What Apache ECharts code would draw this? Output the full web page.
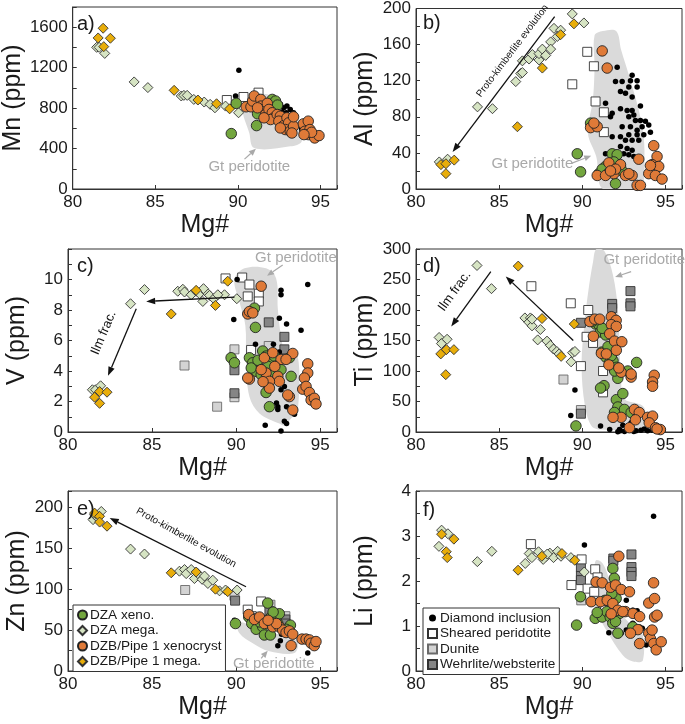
<!DOCTYPE html>
<html><head><meta charset="utf-8">
<script src="https://cdn.jsdelivr.net/npm/echarts@6/dist/echarts.min.js"></script>
<style>html,body{margin:0;padding:0;background:#fff}#c{width:685px;height:724px}</style>
</head><body><div id="c"></div>
<script>
const FF = '"Liberation Sans", Arial, sans-serif';
const xTicks = [80, 85, 90, 95];

// ---------- panel a: Mn ----------
const a_xeno = [[89.6,548],[89.9,847],[91.13,627],[91.19,744],[92.08,886],[92.28,870],[91.29,853],[90.99,870],[91.6,800],[92.4,830]];
const a_mega = [[81.45,1401],[81.6,1401],[81.94,1341],[83.72,1059],[84.55,1003],[86.57,920],[86.73,926],[86.93,926],[87.33,886],[87.96,860],[88.32,837],[88.61,803],[89.25,820],[90.04,754]];
const a_dzb = [[90.5,813],[90.79,813],[90.89,870],[90.99,920],[91.39,886],[91.39,820],[91.58,787],[91.78,847],[91.68,737],[91.88,787],[92.08,754],[92.18,704],[91.98,687],[92.38,737],[92.57,720],[92.48,671],[92.77,627],[92.97,704],[93.07,654],[92.87,588],[93.17,571],[93.37,621],[93.37,714],[93.27,554],[93.96,644],[94.06,571],[94.26,671],[94.36,588],[94.26,538],[94.55,538],[94.65,505],[94.91,528],[94.46,561],[94.0,538],[92.57,604],[91.58,704],[91.19,803]];
const a_dzbMega = [[81.84,1590],[81.54,1494],[82.28,1491],[81.88,1408],[86.14,976],[87.58,880],[88.71,843],[89.5,793]];
const a_dia = [[90.06,1175],[89.86,920],[92.08,870],[92.22,847],[92.38,820],[92.57,837],[92.77,803],[92.67,760],[92.93,754],[93.17,787],[93.37,754],[92.38,770],[92.08,827],[92.97,820],[93.27,687],[93.86,594],[91.58,860],[92.48,720]];
const a_sheared = [[89.33,880],[90.34,910],[91.25,953]];
const a_dunite = [];
const a_wehr = [];
const a_gt = [[90.3,803],[90.99,920],[91.78,936],[92.97,820],[93.76,654],[93.86,471],[93.17,422],[90.99,405],[90.69,554]];

// ---------- panel b: Al ----------
const b_xeno = [[89.7,39],[89.9,19],[90.5,73],[91.4,25],[91.8,39],[92.1,38],[92.0,6],[91.0,17],[92.3,25],[91.2,22],[91.6,18],[92.4,20],[91.9,30]];
const b_mega = [[81.4,30],[81.9,33],[83.7,91],[84.6,89],[86.0,119],[86.3,128],[86.4,142],[86.8,144],[87.0,149],[87.4,143],[87.4,150],[87.6,155],[88.1,163],[88.3,178],[88.7,176],[88.5,169],[89.4,194],[90.1,184],[86.4,129],[88.1,155],[87.8,148]];
const b_dzb = [[91.2,153],[91.5,134],[90.5,68],[90.9,69],[90.7,73],[90.9,15],[91.6,29],[92.3,27],[93.4,33],[93.0,15],[93.3,4],[93.5,4],[94.3,48],[94.5,36],[94.2,27],[94.6,25],[94.0,17],[94.4,15],[94.8,11],[94.1,26],[92.6,15],[91.9,17],[91.4,15],[92.0,22],[92.8,17],[91.7,20]];
const b_dzbMega = [[81.5,27],[81.8,28],[81.8,17],[82.3,32],[86.1,69],[87.6,134],[88.7,171],[89.5,183]];
const b_dia = [[92.1,135],[93.0,126],[92.9,120],[93.3,120],[92.0,119],[92.4,119],[92.8,113],[93.3,113],[92.3,108],[92.6,106],[93.0,102],[93.5,92],[91.4,95],[91.8,84],[91.7,80],[92.3,89],[92.7,87],[93.0,87],[93.1,82],[92.8,80],[93.2,76],[93.5,76],[93.8,75],[93.6,69],[94.0,71],[92.9,69],[93.3,65],[93.7,60],[93.3,60],[94.1,63],[92.8,60],[92.4,69],[92.6,54],[93.4,54],[92.3,47],[92.7,45],[93.0,43],[92.5,39],[92.8,38],[93.1,36],[91.4,39],[92.3,58],[91.8,58],[93.0,54],[92.2,36]];
const b_sheared = [[89.4,116],[90.3,152],[90.7,136],[90.8,97],[91.3,85],[91.3,63]];
const b_dunite = [];
const b_wehr = [];
const b_gt = [[90.74,170],[91.24,175],[92.04,175],[92.34,154],[92.84,124],[93.54,76],[93.74,39],[93.44,0],[91.24,0],[90.84,36],[90.34,62],[90.64,99],[90.74,135]];

// ---------- panel c: V ----------
const c_xeno = [[89.7,4.87],[89.9,4.54],[91.09,8.12],[91.15,6.86],[91.98,1.66],[91.78,2.59],[90.79,4.87],[90.99,4.54],[91.29,4.31],[91.58,5.31],[91.78,4.98],[92.08,4.65],[92.28,4.98],[91.19,3.98],[91.49,3.76],[92.38,4.31],[92.67,4.09],[93.27,3.65],[93.17,4.87],[90.9,4.2],[91.3,4.7],[92.0,3.9],[91.9,4.3]];
const c_mega = [[81.45,2.77],[81.64,2.77],[81.94,3.03],[83.72,8.41],[84.55,9.34],[86.53,9.23],[86.83,9.36],[86.93,9.18],[87.33,9.0],[87.62,9.23],[87.82,9.07],[88.02,8.56],[88.22,9.18],[88.42,8.96],[88.67,8.74],[89.31,9.0],[90.04,8.74],[88.91,9.0],[88.06,9.4]];
const c_dzb = [[90.69,7.74],[90.79,7.9],[90.99,7.81],[91.49,9.56],[93.37,5.15],[94.26,4.47],[94.26,3.87],[94.06,3.54],[93.96,2.81],[94.16,2.99],[94.36,2.59],[94.46,2.1],[94.65,2.21],[94.75,1.84],[93.37,1.44],[93.17,2.32],[90.79,3.47],[90.69,3.54],[91.68,4.87],[92.18,5.2],[92.67,4.76],[91.78,3.87],[92.48,3.65],[92.97,4.76],[93.07,2.43],[92.57,3.32],[91.98,3.32],[91.49,4.09],[91.98,2.88],[92.3,4.3],[91.6,3.3]];
const c_dzbMega = [[81.58,2.28],[81.88,2.65],[81.88,1.88],[82.32,2.61],[86.14,7.74],[87.62,9.29],[88.77,8.3],[89.5,9.89]];
const c_dia = [[90.06,10.0],[89.86,7.37],[92.67,9.29],[92.67,9.0],[92.57,7.46],[93.0,7.08],[93.86,6.68],[94.26,9.67],[91.15,5.75],[92.22,5.75],[91.73,0.44],[92.67,0.07],[92.87,0.71],[93.0,0.55],[93.0,1.66],[92.48,1.66],[92.48,1.48],[92.61,3.25],[92.87,2.99],[92.67,2.77],[93.17,2.37],[91.78,2.99],[91.58,3.21],[93.47,1.17],[91.9,5.09],[92.57,5.24],[92.4,1.9],[93.2,3.5]];
const c_sheared = [[89.37,10.07],[90.36,10.13],[90.79,9.67],[90.69,8.89],[91.35,9.07],[91.35,8.56],[90.89,5.38]];
const c_dunite = [[86.93,4.36],[88.87,1.66],[89.9,5.42],[89.9,2.28],[91.94,5.64],[92.87,5.09]];
const c_wehr = [[89.9,4.05],[89.9,2.54],[91.94,7.19],[92.87,6.24],[92.87,5.42]];
const c_gt = [[89.9,10.0],[90.5,10.73],[91.78,10.73],[92.38,10.07],[92.48,8.08],[92.67,6.31],[92.97,5.09],[93.66,4.98],[93.66,1.22],[93.37,1.0],[92.87,0.44],[92.57,0.55],[91.39,1.22],[90.79,2.32],[90.59,4.76],[90.55,6.97],[90.2,8.52]];

// ---------- panel d: Ti ----------
const d_xeno = [[89.62,10],[90.8,177],[91.0,176],[91.09,164],[91.41,159],[91.17,131],[91.41,123],[91.65,114],[91.85,117],[92.05,106],[92.14,88],[92.74,100],[93.27,114],[91.31,76],[91.1,72],[92.05,53],[92.44,63],[92.14,41],[91.94,32],[92.54,37],[92.94,32],[90.65,182],[91.2,170],[91.55,140],[91.75,125],[91.95,100]];
const d_mega = [[81.39,155],[81.53,145],[81.87,152],[83.67,273],[84.54,235],[86.55,187],[86.88,187],[86.79,180],[86.98,174],[87.48,168],[87.32,151],[87.88,149],[88.08,142],[88.27,136],[88.47,132],[88.61,128],[89.33,115],[89.42,130],[89.56,132],[86.98,185]];
const d_dzb = [[90.46,181],[90.75,185],[91.05,185],[91.75,189],[92.04,183],[91.75,176],[92.05,173],[91.65,161],[91.94,149],[92.38,148],[92.05,134],[91.15,129],[91.45,128],[92.34,98],[92.94,90],[92.94,95],[94.33,93],[94.23,82],[94.23,75],[93.14,37],[93.43,32],[93.93,24],[94.23,26],[94.03,15],[94.41,7],[94.7,4],[92.84,7],[92.34,24],[91.85,24],[90.67,157],[91.6,110],[92.2,105],[93.2,20],[94.5,5]];
const d_dzbMega = [[81.49,128],[81.83,135],[82.28,135],[81.79,94],[86.15,272],[87.58,186],[88.73,124],[89.52,177]];
const d_dia = [[89.56,69],[89.31,27],[91.1,10],[91.65,4],[92.24,4],[92.44,11],[92.94,15],[92.94,3],[93.24,2],[93.53,3],[93.73,5],[92.54,1],[92.14,0.5],[92.74,7],[93.93,2],[94.23,3],[93.1,1],[92.3,2]];
const d_sheared = [[86.94,239],[89.31,211],[89.92,108],[90.36,200],[90.26,156],[90.65,146],[91.25,100],[91.25,65]];
const d_dunite = [[88.87,86],[89.92,36]];
const d_wehr = [[89.92,179],[91.8,210],[91.8,203],[92.9,231],[92.9,211],[92.9,206],[89.92,30]];
const d_gt = [[90.85,300],[91.35,296],[91.85,257],[92.14,202],[92.24,147],[92.34,81],[92.54,54],[93.63,43],[93.83,26],[93.53,7],[91.15,4],[90.56,10],[90.16,43],[89.96,109],[90.12,175],[90.36,230],[90.65,279]];

// ---------- panel e: Zn ----------
const e_xeno = [[89.96,58],[90.75,66],[90.93,58],[91.19,51],[91.58,54],[91.68,44],[92.04,44],[91.88,83],[92.08,66],[92.38,64],[92.48,58],[93.23,56],[92.97,51],[92.57,70],[91.4,60],[92.2,72]];
const e_mega = [[81.49,185],[81.68,189],[81.98,195],[83.72,149],[84.55,143],[86.63,122],[86.93,124],[87.03,119],[87.33,124],[87.52,113],[87.72,119],[87.98,112],[88.12,116],[88.32,107],[88.61,111],[89.01,98],[89.37,99],[90.06,99],[81.58,191]];
const e_dzb = [[90.75,69],[91.09,63],[91.39,66],[91.68,58],[92.08,59],[92.18,54],[92.57,54],[92.77,50],[92.97,47],[93.17,49],[93.37,45],[93.27,31],[93.92,39],[94.16,39],[94.36,38],[94.46,34],[94.65,31],[94.75,36],[92.4,58],[91.9,62]];
const e_dzbMega = [[81.58,193],[81.88,189],[81.88,182],[82.32,177],[86.14,120],[87.62,121],[88.77,100],[89.5,97]];
const e_dia = [[89.9,62],[92.48,31],[92.63,37],[94.26,22],[93.2,55],[92.7,45]];
const e_sheared = [[90.69,75],[90.93,67],[91.49,85],[91.29,65]];
const e_dunite = [[86.97,99],[89.9,92],[92.93,67],[92.04,81]];
const e_wehr = [[89.94,86],[92.93,63],[91.98,73],[92.93,58]];
const e_gt = [[90.1,60],[91.58,50],[92.97,42],[93.66,36],[93.47,22],[91.98,24],[90.99,34],[90.2,46]];

// ---------- panel f: Li ----------
const f_xeno = [[89.66,1.02],[89.89,1.65],[90.78,1.17],[91.2,1.2],[91.36,1.57],[91.84,2.28],[91.93,2.06],[92.04,1.61],[92.14,0.84],[91.48,1.32],[91.68,1.2],[91.84,1.06],[92.24,1.28],[93.04,0.98],[91.78,1.72],[90.9,1.3],[92.0,1.1]];
const f_mega = [[81.54,3.13],[81.38,2.77],[81.92,3.05],[83.69,2.43],[84.56,2.66],[86.57,2.39],[86.81,2.61],[86.97,2.52],[87.37,2.65],[87.81,2.54],[88.05,2.62],[88.27,2.52],[88.52,2.66],[88.72,2.55],[89.32,2.52],[90.12,2.2],[87.65,2.48],[87.9,2.6]];
const f_dzb = [[92.2,2.55],[90.83,1.98],[91.2,1.96],[90.54,1.54],[91.1,1.54],[91.5,1.57],[91.7,1.86],[92.0,1.91],[92.34,1.81],[92.84,1.76],[92.6,1.32],[93.05,1.28],[93.45,1.21],[93.35,0.92],[93.45,0.61],[94.0,1.51],[94.29,1.96],[94.35,1.61],[94.35,1.2],[94.5,1.24],[94.0,0.84],[94.1,0.72],[94.3,0.61],[94.45,0.47],[94.75,0.65],[94.2,0.91],[91.84,1.5],[92.14,1.35],[92.44,1.32],[92.9,0.84],[91.74,1.27]];
const f_dzbMega = [[81.54,3.04],[81.82,2.65],[81.88,2.52],[82.28,2.93],[86.14,2.24],[87.57,2.55],[88.78,2.61],[89.55,2.46]];
const f_dia = [[90.13,2.8],[94.29,3.44],[91.6,0.85],[92.55,1.8],[92.65,1.57],[93.04,1.35],[93.04,1.06],[93.45,0.98],[93.61,0.95],[93.85,0.58],[92.65,0.91],[92.34,0.84],[93.3,1.34],[92.9,1.0]];
const f_sheared = [[86.91,2.82],[89.35,1.91],[89.96,2.48],[90.32,1.83],[90.78,2.26],[90.92,2.08],[90.72,1.76],[91.38,1.4]];
const f_dunite = [[89.94,1.57]];
const f_wehr = [[89.92,2.3],[89.92,2.11],[89.92,2.02],[91.87,2.5],[91.87,2.45],[92.96,2.59],[92.96,2.31],[92.96,2.2],[92.96,2.11]];
const f_gt = [[90.83,2.46],[91.23,2.39],[91.64,2.02],[92.04,1.5],[92.84,1.06],[93.55,0.91],[93.65,0.24],[93.05,0.21],[92.44,0.35],[91.44,0.91],[90.94,1.28],[90.63,1.65],[90.73,2.24]];

// ---------- annotations (data units) ----------
const gtLabelPos = {a:[90.69,222], b:[87.0,27.7], c:[93.56,11.39], d:[93.73,282], e:[92.24,8.6]};
const gtArrow = {a:[90.40,295,91.09,398], b:[89.34,28.4,90.54,36.9], c:[92.77,10.95,91.84,10.24], d:[92.94,263,91.98,254], e:[91.49,15.5,91.88,24.9]};
const trendArrows = {b:[[88.34,191,82.2,41]], c:[[89.9,8.85,84.65,8.56],[84.06,8.08,82.38,3.69]], d:[[84.5,263,82.12,173],[89.46,150,85.4,255]], e:[[90.59,103,82.48,187]]};
const trendText = {b:[85.8,153,'Proto-kimberlite evolution'], c:[82.12,6.5,'Ilm frac.'], d:[82.32,231,'Ilm frac.'], e:[87.03,163,'Proto-kimberlite evolution']};

// ---------- build ----------
const STY = {
  dunite:{name:'Dunite', symbol:'rect', size:9, color:'#d3d3d3', border:'#6a6a6a'},
  wehr:{name:'Wehrlite/websterite', symbol:'rect', size:9, color:'#858585', border:'#333'},
  sheared:{name:'Sheared peridotite', symbol:'rect', size:9, color:'#ffffff', border:'#333'},
  dia:{name:'Diamond inclusion', symbol:'circle', size:5.5, color:'#000000', border:'#000'},
  mega:{name:'DZA mega.', symbol:'diamond', size:10, color:'#d6e4c3', border:'#333'},
  dzbMega:{name:'DZB/Pipe 1 mega.', symbol:'diamond', size:10, color:'#e8ad0a', border:'#333'},
  xeno:{name:'DZA xeno.', symbol:'circle', size:10.5, color:'#73a63e', border:'#222'},
  dzb:{name:'DZB/Pipe 1 xenocryst', symbol:'circle', size:10.5, color:'#df7a38', border:'#222'}
};
const order = ['dunite','wehr','sheared','dia','mega','dzbMega','xeno','dzb'];

const panels = [
  {k:'a', grid:{left:68,top:7,width:269,height:182}, yName:'Mn (ppm)', yMax:1800, yInt:400, yLab:1600,
   sets:{xeno:a_xeno,mega:a_mega,dzb:a_dzb,dzbMega:a_dzbMega,dia:a_dia,sheared:a_sheared,dunite:a_dunite,wehr:a_wehr}, gt:a_gt, lab:[77,14]},
  {k:'b', grid:{left:416,top:8,width:267,height:181}, yName:'Al (ppm)', yMax:200, yInt:40, yLab:200,
   sets:{xeno:b_xeno,mega:b_mega,dzb:b_dzb,dzbMega:b_dzbMega,dia:b_dia,sheared:b_sheared,dunite:b_dunite,wehr:b_wehr}, gt:b_gt, lab:[423,13], rot:53},
  {k:'c', grid:{left:68,top:249,width:269,height:183}, yName:'V (ppm)', yMax:12, yInt:2, yLab:10,
   sets:{xeno:c_xeno,mega:c_mega,dzb:c_dzb,dzbMega:c_dzbMega,dia:c_dia,sheared:c_sheared,dunite:c_dunite,wehr:c_wehr}, gt:c_gt, lab:[77,256], rot:67},
  {k:'d', grid:{left:416,top:249,width:267,height:183}, yName:'Ti (ppm)', yMax:300, yInt:50, yLab:300,
   sets:{xeno:d_xeno,mega:d_mega,dzb:d_dzb,dzbMega:d_dzbMega,dia:d_dia,sheared:d_sheared,dunite:d_dunite,wehr:d_wehr}, gt:d_gt, lab:[423,256], rot:54},
  {k:'e', grid:{left:68,top:491,width:269,height:180}, yName:'Zn (ppm)', yMax:220, yInt:50, yLab:200,
   sets:{xeno:e_xeno,mega:e_mega,dzb:e_dzb,dzbMega:e_dzbMega,dia:e_dia,sheared:e_sheared,dunite:e_dunite,wehr:e_wehr}, gt:e_gt, lab:[77,499], rot:-29},
  {k:'f', grid:{left:416,top:491,width:267,height:180}, yName:'Li (ppm)', yMax:4, yInt:1, yLab:4,
   sets:{xeno:f_xeno,mega:f_mega,dzb:f_dzb,dzbMega:f_dzbMega,dia:f_dia,sheared:f_sheared,dunite:f_dunite,wehr:f_wehr}, gt:f_gt, lab:[423,500]}
];

const grids = [], xAxes = [], yAxes = [], series = [], graphics = [];
const AX = '#333', TX = '#1a1a1a', GT = '#dadada', GTT = '#a9a9a9';

function arrowItem(api, x1, y1, x2, y2, col, lw, L, W){
  const p1 = api.coord([x1, y1]), p2 = api.coord([x2, y2]);
  const ang = Math.atan2(p2[1]-p1[1], p2[0]-p1[0]);
  const bx = p2[0]-L*Math.cos(ang), by = p2[1]-L*Math.sin(ang);
  const head = [[p2[0],p2[1]],[bx - W*Math.sin(ang), by + W*Math.cos(ang)],[bx + W*Math.sin(ang), by - W*Math.cos(ang)]];
  return {type:'group', children:[
    {type:'line', shape:{x1:p1[0],y1:p1[1],x2:bx,y2:by}, style:{stroke:col, lineWidth:lw}},
    {type:'polygon', shape:{points:head}, style:{fill:col}}
  ]};
}

panels.forEach((p, gi) => {
  grids.push(Object.assign({show:true, borderColor:AX, borderWidth:1, backgroundColor:'transparent', containLabel:false}, p.grid));
  xAxes.push({gridIndex:gi, type:'value', min:80, max:96, interval:5, name:'Mg#', nameLocation:'middle', nameGap:24,
    nameTextStyle:{fontSize:25, color:TX, fontFamily:FF},
    axisLine:{show:true, lineStyle:{color:AX, width:1}},
    axisTick:{show:true, inside:true, length:4, lineStyle:{color:AX}},
    axisLabel:{fontSize:17, color:TX, fontFamily:FF, margin:5, formatter: v => xTicks.indexOf(v) >= 0 ? String(v) : ''},
    splitLine:{show:false}});
  const yInt = p.yInt, yLab = p.yLab;
  yAxes.push({gridIndex:gi, type:'value', min:0, max:p.yMax, interval:yInt, name:p.yName, nameLocation:'middle', nameGap:38,
    nameTextStyle:{fontSize:25, color:TX, fontFamily:FF},
    axisLine:{show:true, lineStyle:{color:AX, width:1}},
    axisTick:{show:true, inside:true, length:4, lineStyle:{color:AX}},
    minorTick:{show:true, splitNumber:2, length:4, lineStyle:{color:AX}},
    axisLabel:{fontSize:17, color:TX, fontFamily:FF, margin:5,
      formatter: v => (Math.abs(v/yInt - Math.round(v/yInt)) < 1e-6 && v <= yLab + 1e-9) ? String(v) : ''},
    splitLine:{show:false}});

  // Gt peridotite field
  const gt = p.gt;
  series.push({type:'custom', xAxisIndex:gi, yAxisIndex:gi, z:1, silent:true, clip:true,
    data:[gt[0]],
    renderItem:(params, api) => ({type:'polygon', shape:{points: gt.map(q => api.coord(q)), smooth:0.35}, style:{fill:GT}})});

  // scatter groups
  order.forEach(key => {
    const s = STY[key];
    series.push({type:'scatter', name:s.name, xAxisIndex:gi, yAxisIndex:gi, z:3, symbol:s.symbol, symbolSize:s.size,
      itemStyle:{color:s.color, borderColor:s.border, borderWidth:key==='dia'?0:0.9, opacity:1},
      data:p.sets[key], silent:true});
  });

  // annotations
  const k = p.k;
  const anns = [];
  if (gtArrow[k]) anns.push({kind:'gtArrow', v:gtArrow[k]});
  if (gtLabelPos[k]) anns.push({kind:'gtText', v:gtLabelPos[k]});
  (trendArrows[k] || []).forEach(a => anns.push({kind:'arrow', v:a}));
  if (trendText[k]) anns.push({kind:'text', v:trendText[k]});
  series.push({type:'custom', xAxisIndex:gi, yAxisIndex:gi, z:5, silent:true, clip:false,
    data: anns.map(a => [a.v[0], a.v[1]]),
    renderItem:(params, api) => {
      const a = anns[params.dataIndex];
      if (a.kind === 'gtArrow') return arrowItem(api, a.v[0], a.v[1], a.v[2], a.v[3], GTT, 1.2, 7, 3);
      if (a.kind === 'arrow') return arrowItem(api, a.v[0], a.v[1], a.v[2], a.v[3], '#111', 1.3, 9, 3.3);
      const c = api.coord([a.v[0], a.v[1]]);
      if (a.kind === 'gtText') return {type:'text', x:c[0], y:c[1], style:{text:'Gt peridotite', fill:GTT, font:'15px ' + FF, align:'center', verticalAlign:'middle'}};
      return {type:'text', x:c[0], y:c[1], rotation:(p.rot || 0) * Math.PI / 180,
        style:{text:a.v[2], fill:'#111', font:(a.v[2].length > 12 ? 10 : 13) + 'px ' + FF, align:'center', verticalAlign:'middle'}};
    }});

  graphics.push({type:'text', left:p.lab[0], top:p.lab[1], z:10, style:{text:String.fromCharCode(97+gi) + ')', fill:TX, font:'20px ' + FF}});
});

const legendCommon = {orient:'vertical', borderColor:AX, borderWidth:1, backgroundColor:'#fff', padding:[3,4,3,4], itemGap:1.5,
  itemWidth:9, itemHeight:9, selectedMode:false, textStyle:{fontSize:13.6, color:TX, fontFamily:FF, padding:[0,0,0,-2]}, z:20};

const chart = echarts.init(document.getElementById('c'), null, {renderer:'canvas'});
chart.setOption({
  animation:false,
  backgroundColor:'#fff',
  grid:grids, xAxis:xAxes, yAxis:yAxes, series:series,
  legend:[
    Object.assign({left:73, top:605, data:['DZA xeno.','DZA mega.','DZB/Pipe 1 xenocryst','DZB/Pipe 1 mega.']}, legendCommon),
    Object.assign({left:423, top:608, data:[{name:'Diamond inclusion', itemStyle:{borderColor:'#fff', borderWidth:2}},'Sheared peridotite','Dunite','Wehrlite/websterite']}, legendCommon)
  ],
  graphic:graphics
});
</script>
</body></html>
